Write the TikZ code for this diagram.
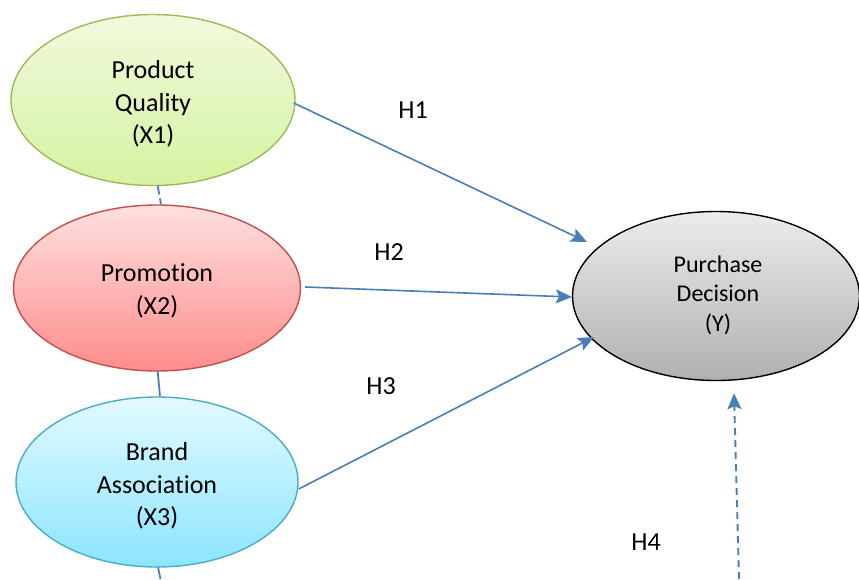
\documentclass[tikz,border=0pt]{standalone}
\usepackage{fontspec}
\setmainfont{Carlito}[Ligatures=NoCommon]
\usetikzlibrary{shapes.geometric,arrows.meta,calc}
\definecolor{arrblue}{HTML}{4A7EBB}
\definecolor{gborder}{HTML}{9BBB59}
\definecolor{rborder}{HTML}{C0504D}
\definecolor{cborder}{HTML}{4BACC6}
\tikzset{
  var/.style={ellipse, inner sep=0pt, line width=1.4pt},
  green/.style={var, draw=gborder, top color={rgb,255:red,240;green,250;blue,222}, bottom color={rgb,255:red,214;green,242;blue,160},
    minimum width=284pt, minimum height=171pt},
  redv/.style={var, draw=rborder, top color={rgb,255:red,255;green,224;blue,224}, bottom color={rgb,255:red,255;green,140;blue,140},
    minimum width=287pt, minimum height=166pt},
  cyanv/.style={var, draw=cborder, top color={rgb,255:red,226;green,250;blue,255}, bottom color={rgb,255:red,140;green,228;blue,255},
    minimum width=282pt, minimum height=170pt},
  grayv/.style={var, draw=black, top color={rgb,255:red,236;green,236;blue,236}, bottom color={rgb,255:red,176;green,176;blue,176},
    minimum width=287pt, minimum height=169pt},
  txt/.style={align=center, inner sep=0pt, font=\fontsize{26}{32.5}\selectfont},
  ytxt/.style={align=center, inner sep=0pt, font=\fontsize{24}{29.5}\selectfont},
  hyp/.style={draw=arrblue, line width=1.6pt, -{Stealth[length=16pt,width=14pt,inset=3pt]}},
  hypd/.style={hyp, line width=1.9pt, dash pattern=on 7pt off 5pt},
  cov/.style={draw=arrblue, line width=1.8pt, dash pattern=on 9pt off 4pt},
  lab/.style={font=\fontsize{26}{30}\selectfont}
}
\begin{document}
\begin{tikzpicture}[x=1pt,y=-1pt]
\useasboundingbox (0,0) rectangle (859,579);
\node[green] (x1) at (153,100) {};
\node[redv] (x2) at (157,288) {};
\node[cyanv] (x3) at (157,482) {};
\node[grayv] (y) at (716,296) {};
\node[txt] (x1t) at ($(x1.center)+(0,4)$) {Product\\Quality\\(X1)};
\node[txt] (x2t) at ($(x2.center)+(0,3)$) {Promotion\\(X2)};
\node[txt] (x3t) at ($(x3.center)+(0,4)$) {Brand\\Association\\(X3)};
\node[ytxt] (yt) at ($(y.center)+(2,-1)$) {Purchase\\Decision\\(Y)};
\node[lab] (h1) at (413,110) {H1};
\node[lab] (h2) at (389,252) {H2};
\node[lab] (h3) at (381,386) {H3};
\node[lab] (h4) at (646,542) {H4};
\coordinate (bot) at (160.5,579);
\coordinate (h4s) at (739,579);
\draw[cov] ($(x1.south)+(4.7,-0.5)$) -- ($(x2.north)+(4,0)$);
\draw[cov, solid] ($(x2.south)+(0.7,-0.5)$) -- ($(x3.north)+(3,0)$);
\draw[cov, solid] ($(x3.south)+(1,-0.5)$) -- (bot);
\draw[hyp] ($(x1.east)+(-2,3)$) -- ($(y.center)+(-129,-54)$);
\draw[hyp] ($(x2.east)+(4,-1)$) -- ($(y.center)+(-144,1)$);
\draw[hyp] ($(x3.east)+(0,7)$) -- ($(y.center)+(-122,41)$);
\draw[hypd] (h4s) -- ($(y.south)+(18,12)$);
\end{tikzpicture}
\end{document}
